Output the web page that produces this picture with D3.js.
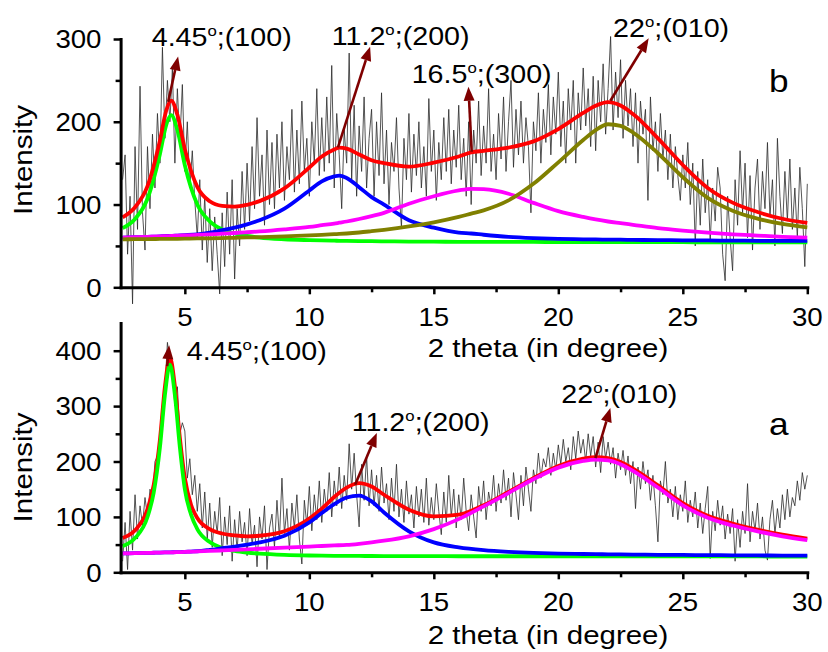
<!DOCTYPE html>
<html>
<head>
<meta charset="utf-8">
<script src="https://cdnjs.cloudflare.com/ajax/libs/d3/7.8.5/d3.min.js"></script>
<style>
  body { margin: 0; background: #fff; }
  svg { display: block; }
  text { font-family: "Liberation Sans", Arial, sans-serif; fill: #000; }
</style>
</head>
<body>
<svg id="chart" width="828" height="652"></svg>
<script>
// ---------- measured scans (2θ from 2.5° to 30° in 0.1° steps) ----------
const scanStart = 2.5;
const scanStep = 0.1;

// sample b
const scanB = [
  130, 160, 40, 110, -20, 170, 70, 243, 90, 45,
  170, 95, 185, 120, 210, 150, 290, 180, 250, 200,
  265, 150, 240, 175, 245, 140, 200, 120, 165, 105,
  60, 130, 45, 110, 30, 95, 20, 85, 40, -8,
  90, 25, 115, 40, 130, 10, 95, 50, 140, 70,
  150, 80, 170, 95, 205, 110, 160, 75, 190, 100,
  175, 95, 185, 120, 200, 105, 170, 130, 215, 115,
  190, 125, 225, 140, 180, 110, 200, 150, 240, 135,
  205, 140, 230, 150, 268, 120, 210, 160, 95, 190,
  150, 283, 130, 220, 110, 195, 140, 230, 120, 180,
  215, 110, 200, 135, 235, 125, 190, 100, 175, 140,
  205, 120, 72, 180, 130, 210, 115, 185, 135, 200,
  120, 170, 110, 228, 140, 190, 105, 175, 130, 205,
  140, 215, 125, 190, 145, 220, 130, 180, 110, 200,
  100, 190, 150, 225, 135, 195, 150, 240, 140, 185,
  130, 210, 155, 230, 140, 200, 250, 145, 215, 160,
  225, 150, 205, 170, 90, 200, 165, 235, 150, 215,
  175, 245, 160, 230, 185, 260, 170, 225, 150, 240,
  190, 250, 150, 235, 190, 265, 195, 240, 170, 255,
  165, 250, 200, 270, 185, 240, 303, 190, 260, 205,
  275, 180, 250, 195, 240, 170, 235, 150, 225, 185,
  215, 105, 230, 165, 200, 140, 210, 155, 190, 130,
  185, 120, 170, 135, 105, 160, 120, 175, 100, 150,
  50, 140, 75, 155, 90, 130, 55, 120, 80, 145,
  120, 40, 8, 110, 60, 20, 130, 75, 165, 90,
  150, 60, 135, 45, 120, 155, 70, 140, 95, 175,
  85, 130, 50, 180, 110, 65, 140, 80, 155, 70,
  120, 60, 145, 95, 25, 125
];

// sample a
const scanA = [
  20, 90, 5, 110, 40, 140, 60, 120, 85, 135,
  100, 150, 135, 200, 210, 245, 290, 330, 415, 380,
  360, 300, 335, 250, 270, 255, 170, 205, 140, 175,
  110, 160, 80, 145, 60, 125, 45, 110, 70, 135,
  30, 100, 50, 120, 20, 95, 40, 110, 55, 90,
  30, 115, 50, 85, 10, 100, 60, 120, 5, 80,
  105, 45, 130, 60, 170, 70, 115, 40, 125, 80,
  140, 60, 15, 130, 85, 155, 75, 140, 95, 165,
  90, 150, 110, 180, 100, 165, 120, 190, 115, 175,
  130, 232, 150, 215, 140, 82, 195, 130, 210, 120,
  185, 120, 175, 110, 190, 125, 160, 95, 170, 110,
  195, 100, 150, 90, 165, 105, 140, 80, 155, 100,
  150, 90, 170, 85, 135, 95, 160, 110, 68, 145,
  90, 175, 100, 150, 80, 140, 95, 170, 110, 75,
  140, 100, 62, 155, 110, 165, 95, 145, 120, 175,
  110, 160, 125, 185, 130, 170, 100, 180, 140, 95,
  175, 120, 190, 150, 110, 185, 160, 215, 170, 205,
  190, 225, 175, 215, 185, 230, 195, 240, 200, 225,
  185, 245, 205, 255, 215, 240, 200, 250, 210, 245,
  190, 235, 180, 245, 205, 235, 195, 225, 170, 215,
  185, 220, 175, 210, 160, 200, 115, 190, 150, 200,
  160, 185, 130, 175, 120, 55, 165, 140, 200, 125,
  150, 100, 155, 95, 140, 110, 165, 90, 130, 100,
  145, 80, 125, 70, 115, 155, 25, 110, 75, 130,
  85, 120, 60, 105, 70, 115, 20, 95, 45, 110,
  70, 160, 55, 110, 75, 125, 60, 100, 40, 22,
  95, 130, 70, 115, 80, 140, 95, 150, 100, 135,
  120, 165, 130, 180, 150, 175
];

// ---------- peak-fit curves, sampled along 2θ ----------
const fitXB = [2.5, 3, 3.5, 4, 4.25, 4.45, 4.7, 5, 5.5, 6, 6.5, 7, 7.5, 8, 9, 10, 10.5, 11, 11.2, 11.5,
  12, 12.5, 13, 14, 15, 16, 16.5, 17, 18, 19, 20, 21, 21.5, 22, 22.5, 23, 24, 25, 26, 27, 28, 29, 30];
const fitSumB = [84.5, 96.7, 122.2, 177.4, 213.3, 225.5, 208.4, 166.9, 121.3, 103.9,
  98.3, 97.4, 99.7, 104.1, 119.5, 144.7, 158, 166.5, 168.7, 167.5,
  160.5, 153.5, 150, 145.8, 150.6, 158, 163, 164.9, 168.8, 176.3,
  191.2, 210.7, 219.4, 223.7, 219.6, 209.3, 180, 147.8, 120, 102.3,
  91, 82.8, 77.8];
const peak100B = [71.5, 82.6, 107, 161, 196, 208, 190, 147.5, 100, 79.7,
  70, 65, 62, 60, 58, 57, 56.6, 56.3, 56.2, 56,
  55.8, 55.7, 55.5, 55.3, 55.1, 55, 55, 54.9, 54.8, 54.8,
  54.7, 54.7, 54.6, 54.6, 54.6, 54.5, 54.5, 54.5, 54.4, 54.4,
  54.3, 54.3, 54.3];
const peak200B = [60, 60.5, 61, 61.5, 62, 62, 62.5, 63, 64, 66,
  69, 72, 76, 81, 95, 117, 128, 134, 135, 132,
  121, 109, 100, 81, 72, 66, 65, 63.5, 61, 59.5,
  58.5, 58, 57.8, 57.6, 57.5, 57.3, 57, 56.8, 56.6, 56.4,
  56.2, 56, 56];
const peak300B = [60, 60.5, 61, 61.5, 61.8, 62, 62.3, 62.7, 63.3, 64,
  64.8, 65.6, 66.5, 67.5, 70, 73, 75, 77, 78, 79.5,
  82.5, 86, 90, 101, 110, 117, 119, 118.5, 113, 102,
  92, 85, 82, 79.5, 77.5, 75.5, 71.5, 68.5, 66, 64,
  62.5, 61, 60];
const peak010B = [58, 58.1, 58.2, 58.4, 58.5, 58.5, 58.6, 58.7, 59, 59.2,
  59.5, 59.8, 60.2, 60.6, 61.5, 62.7, 63.4, 64.2, 64.5, 65,
  66.2, 67.8, 69.5, 73.5, 78.5, 85, 89, 93, 105, 125,
  151, 178, 190, 197, 195, 187, 162, 133, 108, 92.5,
  83, 76.5, 72.5];

const fitXA = [2.5, 3, 3.5, 3.75, 4, 4.2, 4.4, 4.6, 4.8, 5, 5.25, 5.5, 6, 6.5, 7, 7.5, 8, 9, 10, 10.5,
  11, 11.5, 12, 12.5, 13, 14, 15, 16, 17, 18, 19, 20, 21, 21.5, 22, 22.5, 23, 24, 25, 26, 27, 28, 29, 30];
const fitSumA = [62, 76, 114, 158, 240, 335, 388, 336, 243, 170,
  122, 98, 78, 70, 66.5, 65, 66, 74, 97, 115,
  136, 153, 161, 155, 140, 113, 101, 104, 121, 145,
  170, 192, 205, 208, 206, 199, 187, 157, 125, 102,
  88, 77, 68, 61];
const peak100A = [47.2, 61.8, 99.8, 143.8, 225.6, 319.8, 375, 319.8, 225.6, 150,
  104, 78, 54.5, 43.9, 38.5, 35.5, 33.6, 31.4, 30.3, 30,
  29.8, 29.6, 29.5, 29.4, 29.3, 29.2, 29.1, 29, 29, 29,
  29, 28.9, 28.9, 28.9, 28.8, 28.8, 28.8, 28.7, 28.7, 28.7,
  28.6, 28.6, 28.5, 28.5];
const peak200A = [34, 34.5, 35, 35.3, 35.6, 35.8, 36, 36.3, 36.6, 37,
  37.5, 38, 40.5, 43.5, 46.5, 50, 54, 66, 90, 107,
  123, 135, 138.5, 128, 108, 74, 54, 45, 40, 37,
  35, 33.8, 33, 32.7, 32.4, 32.2, 32, 31.6, 31.3, 31,
  30.7, 30.4, 30.2, 30];
const peak010A = [34, 34.5, 35, 35.3, 35.6, 35.8, 36, 36.2, 36.5, 36.8,
  37.2, 37.6, 38.5, 39.5, 40.5, 41.5, 42.5, 44.5, 46.5, 47.5,
  48.5, 49.5, 51.5, 54, 57, 65, 78, 96, 119, 143,
  168, 189, 201, 203.5, 202, 195, 183, 153, 121, 98.5,
  84.5, 74, 65, 58];

// ---------- axes ticks ----------
const xTicks = [5, 10, 15, 20, 25, 30];
const xMinorTicks = [7.5, 12.5, 17.5, 22.5, 27.5];
const yTicksB = [0, 100, 200, 300];
const yMinorB = [50, 150, 250];
const yTicksA = [0, 100, 200, 300, 400];
const yMinorA = [50, 150, 250, 350];

// ---------- peak annotations (arrow from fit to label, in data units) ----------
const notesB = [
  { deg: "4.45", hkl: "(100)", from: [4.33, 224], to: [4.73, 279], at: [3.67, 291.5] },
  { deg: "11.2", hkl: "(200)", from: [11.15, 169], to: [12.44, 290.7], at: [10.9, 292.7] },
  { deg: "16.5", hkl: "(300)", from: [16.52, 163.8], to: [16.39, 242.4], at: [14.11, 246.5] },
  { deg: "22", hkl: "(010)", from: [22.09, 225.4], to: [23.63, 300.8], at: [22.2, 302.8] }
];
const notesA = [
  { deg: "4.45", hkl: "(100)", from: [4.29, 372], to: [4.37, 410], at: [5.08, 382.5] },
  { deg: "11.2", hkl: "(200)", from: [11.84, 158], to: [12.71, 251.4], at: [11.7, 255] },
  { deg: "22", hkl: "(010)", from: [21.49, 206], to: [22.09, 296.6], at: [20.12, 305] }
];

// ---------- drawing ----------
const svg = d3.select("#chart");
const FONT = 25.6;
const STRETCH = 1.12;
const x = d3.scaleLinear().domain([2.42, 30]).range([120.6, 807.3]);

function stretchedText(g, px, py, str, size, anchor, sx) {
  return g.append("text")
    .attr("transform", `translate(${px},${py}) scale(${sx},1)`)
    .attr("text-anchor", anchor)
    .attr("font-size", size)
    .text(str);
}

function drawPanel(p) {
  const g = svg.append("g");
  const y = d3.scaleLinear().domain(p.yDomain).range(p.yRange);
  const y0 = y(0);

  // measured scan
  const scanPts = p.scan.map((v, i) => [scanStart + i * scanStep, v]);
  g.append("path")
    .datum(scanPts)
    .attr("fill", "none")
    .attr("stroke", "#2a2a2a")
    .attr("stroke-width", 0.8)
    .attr("d", d3.line().x(d => x(d[0])).y(d => y(d[1])));

  // fitted curves
  const fitLine = d3.line().x(d => x(d[0])).y(d => y(d[1])).curve(d3.curveMonotoneX);
  p.curves.forEach(c => {
    g.append("path")
      .datum(p.fitX.map((xx, i) => [xx, c.values[i]]))
      .attr("fill", "none")
      .attr("stroke", c.color)
      .attr("stroke-width", 3.8)
      .attr("stroke-linejoin", "round")
      .attr("d", fitLine);
  });

  // axes
  const styleAxis = sel => {
    sel.selectAll(".domain").attr("stroke", "#000").attr("stroke-width", 3).attr("stroke-linecap", "square");
    sel.selectAll(".tick line").attr("stroke", "#000").attr("stroke-width", 2.5);
    sel.selectAll(".tick text").remove();
  };
  g.append("g").attr("transform", `translate(0,${y0})`)
    .call(d3.axisBottom(x).tickValues(xTicks).tickSize(7).tickSizeOuter(0).tickFormat(""))
    .call(styleAxis);
  g.append("g").attr("transform", `translate(0,${y0})`)
    .call(d3.axisBottom(x).tickValues(xMinorTicks).tickSize(5).tickSizeOuter(0).tickFormat(""))
    .call(styleAxis).call(s => s.select(".domain").remove());
  g.append("g").attr("transform", `translate(${x.range()[0]},0)`)
    .call(d3.axisLeft(y).tickValues(p.yTicks).tickSize(7).tickSizeOuter(0).tickFormat(""))
    .call(styleAxis);
  g.append("g").attr("transform", `translate(${x.range()[0]},0)`)
    .call(d3.axisLeft(y).tickValues(p.yMinor).tickSize(5).tickSizeOuter(0).tickFormat(""))
    .call(styleAxis).call(s => s.select(".domain").remove());

  // tick labels
  xTicks.forEach(t => stretchedText(g, x(t), y0 + 39, String(t), FONT, "middle", 1.08));
  p.yTicks.forEach(t => stretchedText(g, 101.5, y(t) + 9.2, String(t), FONT, "end", 1.08));

  // axis titles
  stretchedText(g, 548, y0 + p.titleGap, "2 theta (in degree)", FONT, "middle", 1.15);
  g.append("text")
    .attr("transform", `translate(32,${p.yTitleMid}) rotate(-90) scale(1.18,1)`)
    .attr("text-anchor", "middle")
    .attr("font-size", 25)
    .text("Intensity");

  // annotation arrows and labels
  const arrowColor = "#7f0000";
  p.notes.forEach(n => {
    const sx = x(n.from[0]), sy = y(n.from[1]);
    const tx = x(n.to[0]), ty = y(n.to[1]);
    const len = Math.hypot(tx - sx, ty - sy);
    const ux = (tx - sx) / len, uy = (ty - sy) / len;
    const head = 14, half = 5.5;
    const bx = tx - ux * head, by = ty - uy * head;
    g.append("line")
      .attr("x1", sx).attr("y1", sy).attr("x2", bx).attr("y2", by)
      .attr("stroke", arrowColor).attr("stroke-width", 2.6);
    g.append("path")
      .attr("d", `M${tx},${ty}L${bx - uy * half},${by + ux * half}L${bx + uy * half},${by - ux * half}Z`)
      .attr("fill", arrowColor);

    const t = g.append("text")
      .attr("transform", `translate(${x(n.at[0])},${y(n.at[1])}) scale(${STRETCH},1)`)
      .attr("font-size", FONT);
    t.append("tspan").text(n.deg);
    t.append("tspan").attr("font-size", 15).attr("dy", -10).text("o");
    t.append("tspan").attr("dy", 10).text(";" + n.hkl);
  });

  // panel letter
  stretchedText(g, 769, p.letterY, p.letter, 32, "start", 1.1);
}

drawPanel({
  scan: scanB,
  fitX: fitXB,
  curves: [
    { color: "#00ff00", values: peak100B },
    { color: "#0000ff", values: peak200B },
    { color: "#ff00ff", values: peak300B },
    { color: "#808000", values: peak010B },
    { color: "#ff0000", values: fitSumB }
  ],
  yDomain: [0, 300], yRange: [287.3, 39],
  yTicks: yTicksB, yMinor: yMinorB,
  notes: notesB,
  titleGap: 69.4, yTitleMid: 160,
  letter: "b", letterY: 91.7
});

drawPanel({
  scan: scanA,
  fitX: fitXA,
  curves: [
    { color: "#ff0000", values: fitSumA },
    { color: "#00ff00", values: peak100A },
    { color: "#0000ff", values: peak200A },
    { color: "#ff00ff", values: peak010A }
  ],
  yDomain: [0, 450], yRange: [572.3, 323],
  yTicks: yTicksA, yMinor: yMinorA,
  notes: notesA,
  titleGap: 72, yTitleMid: 467.5,
  letter: "a", letterY: 435
});
</script>
</body>
</html>
